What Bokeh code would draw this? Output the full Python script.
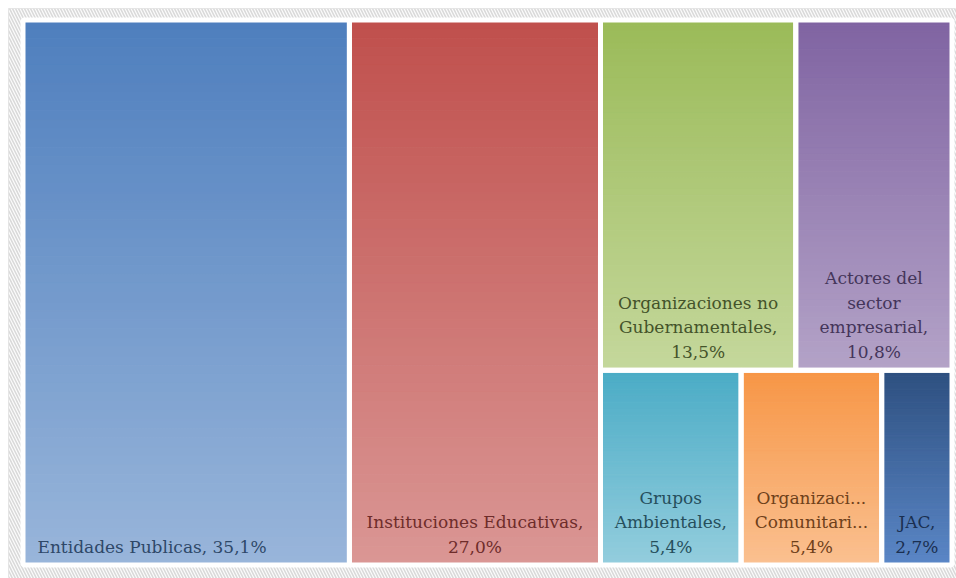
from bokeh.plotting import figure
from bokeh.models import ColumnDataSource, BoxAnnotation, Range1d
from bokeh.core.properties import value
from bokeh.embed import file_html
from bokeh.resources import INLINE

# ---- data ----
categories = ["Entidades Publicas", "Instituciones Educativas",
              "Organizaciones no Gubernamentales", "Actores del sector empresarial",
              "Grupos Ambientales", "Organizaciones Comunitarias", "JAC"]
values = [35.1, 27.0, 13.5, 10.8, 5.4, 5.4, 2.7]
label_lines = [["Entidades Publicas, {p}"],
               ["Instituciones Educativas,", "{p}"],
               ["Organizaciones no", "Gubernamentales,", "{p}"],
               ["Actores del", "sector", "empresarial,", "{p}"],
               ["Grupos", "Ambientales,", "{p}"],
               ["Organizaci...", "Comunitari...", "{p}"],
               ["JAC,", "{p}"]]
# treemap structure: first two as full-height columns, rest split into rows
columns_idx = [0, 1]
rows_idx = [[2, 3], [4, 5, 6]]

# ---- styles ----
top_colors = ["#4F7FBE", "#C0504D", "#9BBB59", "#8064A2", "#4BACC6", "#F79646", "#2E5080"]
bot_colors = ["#98B5DA", "#DA9694", "#C4D79B", "#B3A2C7", "#93CDDD", "#FAC090", "#5A86C6"]
text_colors = ["#2E4868", "#6E2C2A", "#44532A", "#44355A", "#264F5C", "#6E401A", "#1A2F50"]
FONT = "DejaVu Serif"

W, H = 956, 578
MARGIN = 8
PX_W, PX_H = 929.0, 545.0          # pixel extent of the treemap block
PAD_L, PAD_R, PAD_T, PAD_B = 14.5, 4.5, 11.5, 13.5

total = sum(values)
# ---- layout from values ----
rects = {}
x0 = 0.0
for i in columns_idx:
    w = values[i]
    rects[i] = (x0, x0 + w, 0.0, 1.0)
    x0 += w
rest_w = total - x0
rest_sum = sum(values[i] for r in rows_idx for i in r)
ytop = 1.0
for r in rows_idx:
    rs = sum(values[i] for i in r)
    h = rs / rest_sum
    xx = x0
    for i in r:
        w = values[i] / rs * rest_w
        rects[i] = (xx, xx + w, ytop - h, ytop)
        xx += w
    ytop -= h

ux = total / PX_W
uy = 1.0 / PX_H

p = figure(width=W, height=H, output_backend="svg", toolbar_location=None,
           x_range=Range1d(-PAD_L * ux, total + PAD_R * ux),
           y_range=Range1d(-PAD_B * uy, 1 + PAD_T * uy),
           min_border=0, min_border_left=MARGIN, min_border_top=MARGIN)
p.axis.visible = False
p.grid.visible = False
p.outline_line_color = "#e0e0e0"
p.background_fill_color = "#ffffff"
p.border_fill_color = "#ffffff"

p.add_layout(BoxAnnotation(fill_color="#fbfbfb", fill_alpha=1.0, line_color=None,
                           hatch_pattern="\\", hatch_color="#d9d9d9",
                           hatch_scale=6, hatch_weight=1.5, level="underlay"))

def hex2rgb(h):
    h = h.lstrip("#")
    return tuple(int(h[k:k + 2], 16) for k in (0, 2, 4))

N = 60
sl, sr, sb, st, sc = [], [], [], [], []
for i in range(len(values)):
    l, r, b, t = rects[i]
    c0, c1 = hex2rgb(top_colors[i]), hex2rgb(bot_colors[i])
    for k in range(N):
        f = k / (N - 1)
        col = "#%02x%02x%02x" % tuple(int(round(c0[j] + (c1[j] - c0[j]) * f)) for j in range(3))
        yt = t - (t - b) * k / N
        yb = t - (t - b) * (k + 1) / N
        sl.append(l); sr.append(r); st.append(yt); sb.append(yb); sc.append(col)
p.quad(left="l", right="r", bottom="b", top="t", fill_color="c", line_color="c", line_width=1,
       source=ColumnDataSource(dict(l=sl, r=sr, b=sb, t=st, c=sc)))

p.quad(left=[rects[i][0] for i in range(len(values))],
       right=[rects[i][1] for i in range(len(values))],
       bottom=[rects[i][2] for i in range(len(values))],
       top=[rects[i][3] for i in range(len(values))],
       fill_alpha=0, line_color="white", line_width=5)

# ---- labels ----
LH = 24.5
tx, ty, tt, tc, txo, tyo, ta = [], [], [], [], [], [], []
for i, v in enumerate(values):
    l, r, b, t = rects[i]
    pct = ("%.1f" % v).replace(".", ",") + "%"
    lines = [s.format(p=pct) for s in label_lines[i]]
    n = len(lines)
    for k, s in enumerate(lines):
        if i == 0:
            tx.append(l); txo.append(14.5); ta.append("left")
        else:
            tx.append((l + r) / 2); txo.append(0); ta.append("center")
        ty.append(b)
        tyo.append(-(18.5 + (n - 1 - k) * LH))
        tt.append(s)
        tc.append(text_colors[i])
p.text(x="x", y="y", text="t", text_color="c", x_offset="xo", y_offset="yo", text_align="a",
       text_baseline="middle", text_font=value(FONT), text_font_size="17px",
       source=ColumnDataSource(dict(x=tx, y=ty, t=tt, c=tc, xo=txo, yo=tyo, a=ta)))

open("out.html", "w").write(file_html(p, INLINE))
